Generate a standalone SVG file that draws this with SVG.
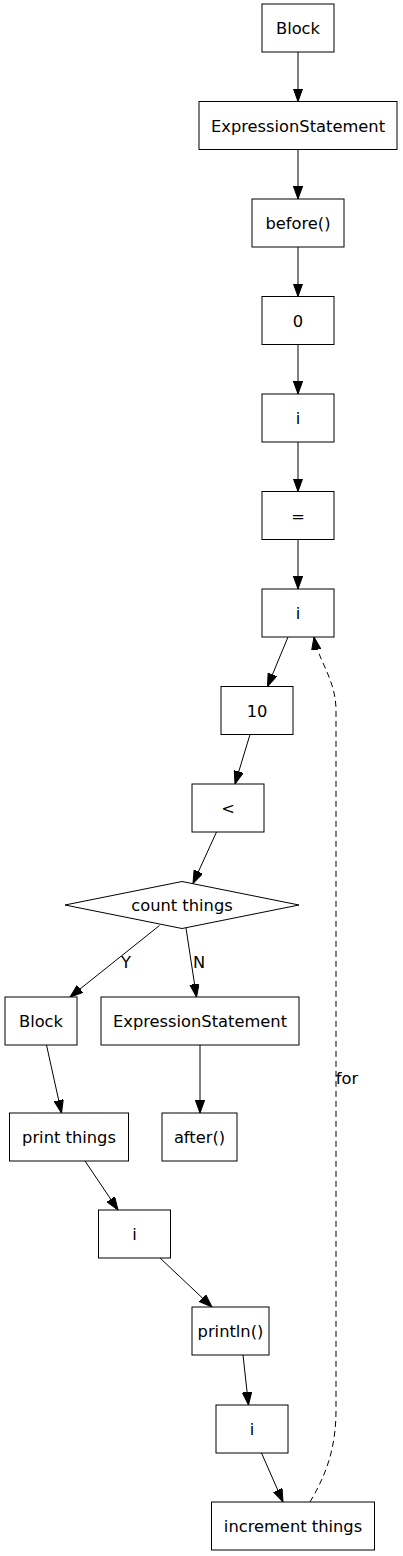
<svg xmlns="http://www.w3.org/2000/svg" width="403" height="1556" viewBox="0 0 403 1556">
<style>
.n rect, .n polygon { fill: #fff; stroke: #000; stroke-width: 1; }
text { font-family: "DejaVu Sans", Verdana, sans-serif; font-size: 16.3px; fill: #000; text-anchor: middle; }
.e line, .e path { stroke: #000; stroke-width: 1; fill: none; marker-end: url(#arr); }
.e .d { stroke-dasharray: 6,4; }
</style>
<defs>
<marker id="arr" markerUnits="userSpaceOnUse" markerWidth="14" markerHeight="10" refX="13" refY="4.7" orient="auto">
<path d="M0,0 L13,4.7 L0,9.4 z" fill="#000" stroke="#000" stroke-width="1"/>
</marker>
</defs>
<rect width="403" height="1556" fill="#fff"/>
<g id="edges" class="e">
<line x1="298" y1="52" x2="298" y2="101.5"/>
<line x1="298" y1="149.5" x2="298" y2="199"/>
<line x1="298" y1="247" x2="298" y2="296.5"/>
<line x1="298" y1="344.5" x2="298" y2="394"/>
<line x1="298" y1="442" x2="298" y2="491.5"/>
<line x1="298" y1="539.5" x2="298" y2="589"/>
<line x1="288" y1="637" x2="267.5" y2="686.5"/>
<line x1="250" y1="734.5" x2="235" y2="784"/>
<line x1="216.5" y1="832" x2="193" y2="883.5"/>
<line x1="159.5" y1="925.5" x2="70" y2="997"/>
<line x1="186" y1="928" x2="196.5" y2="997"/>
<line x1="200" y1="1045" x2="200" y2="1113"/>
<line x1="46.5" y1="1045" x2="61.5" y2="1113"/>
<line x1="85" y1="1161" x2="118" y2="1210"/>
<line x1="160" y1="1258" x2="212" y2="1307"/>
<line x1="243" y1="1355" x2="248.5" y2="1405"/>
<line x1="261.5" y1="1453" x2="283" y2="1502"/>
<path class="d" d="M310,1502 C324,1478 336,1452 336,1410 L336,710 C336,680 318,660 314,637"/>
<text x="126" y="968">Y</text>
<text x="199" y="968">N</text>
<text x="347" y="1084">for</text>
</g>
<g id="n1" class="n"><rect x="262" y="4" width="72" height="48"/><text x="298" y="34">Block</text></g>
<g id="n2" class="n"><rect x="199" y="101.5" width="198" height="48"/><text x="298" y="131.5">ExpressionStatement</text></g>
<g id="n3" class="n"><rect x="252" y="199" width="92" height="48"/><text x="298" y="229">before()</text></g>
<g id="n4" class="n"><rect x="262" y="296.5" width="72" height="48"/><text x="298" y="326.5">0</text></g>
<g id="n5" class="n"><rect x="262" y="394" width="72" height="48"/><text x="298" y="424">i</text></g>
<g id="n6" class="n"><rect x="262" y="491.5" width="72" height="48"/><text x="298" y="521.5">=</text></g>
<g id="n7" class="n"><rect x="262" y="589" width="72" height="48"/><text x="298" y="619">i</text></g>
<g id="n8" class="n"><rect x="221" y="686.5" width="72" height="48"/><text x="257" y="716.5">10</text></g>
<g id="n9" class="n"><rect x="192" y="784" width="72" height="48"/><text x="228" y="814">&lt;</text></g>
<g id="n10" class="n"><polygon points="182,881.5 299,905 182,928.5 65,905"/><text x="182" y="911">count things</text></g>
<g id="n11" class="n"><rect x="5" y="997" width="72" height="48"/><text x="41" y="1027">Block</text></g>
<g id="n12" class="n"><rect x="101" y="997" width="198" height="48"/><text x="200" y="1027">ExpressionStatement</text></g>
<g id="n13" class="n"><rect x="9.5" y="1113" width="119" height="48"/><text x="69" y="1143">print things</text></g>
<g id="n14" class="n"><rect x="162" y="1113" width="75" height="48"/><text x="199.5" y="1143">after()</text></g>
<g id="n15" class="n"><rect x="98.5" y="1210" width="72" height="48"/><text x="134.5" y="1240">i</text></g>
<g id="n16" class="n"><rect x="192" y="1307" width="77" height="48"/><text x="230.5" y="1337">println()</text></g>
<g id="n17" class="n"><rect x="216" y="1405" width="72" height="48"/><text x="252" y="1435">i</text></g>
<g id="n18" class="n"><rect x="211.5" y="1502" width="163" height="48"/><text x="293" y="1532">increment things</text></g>
</svg>
